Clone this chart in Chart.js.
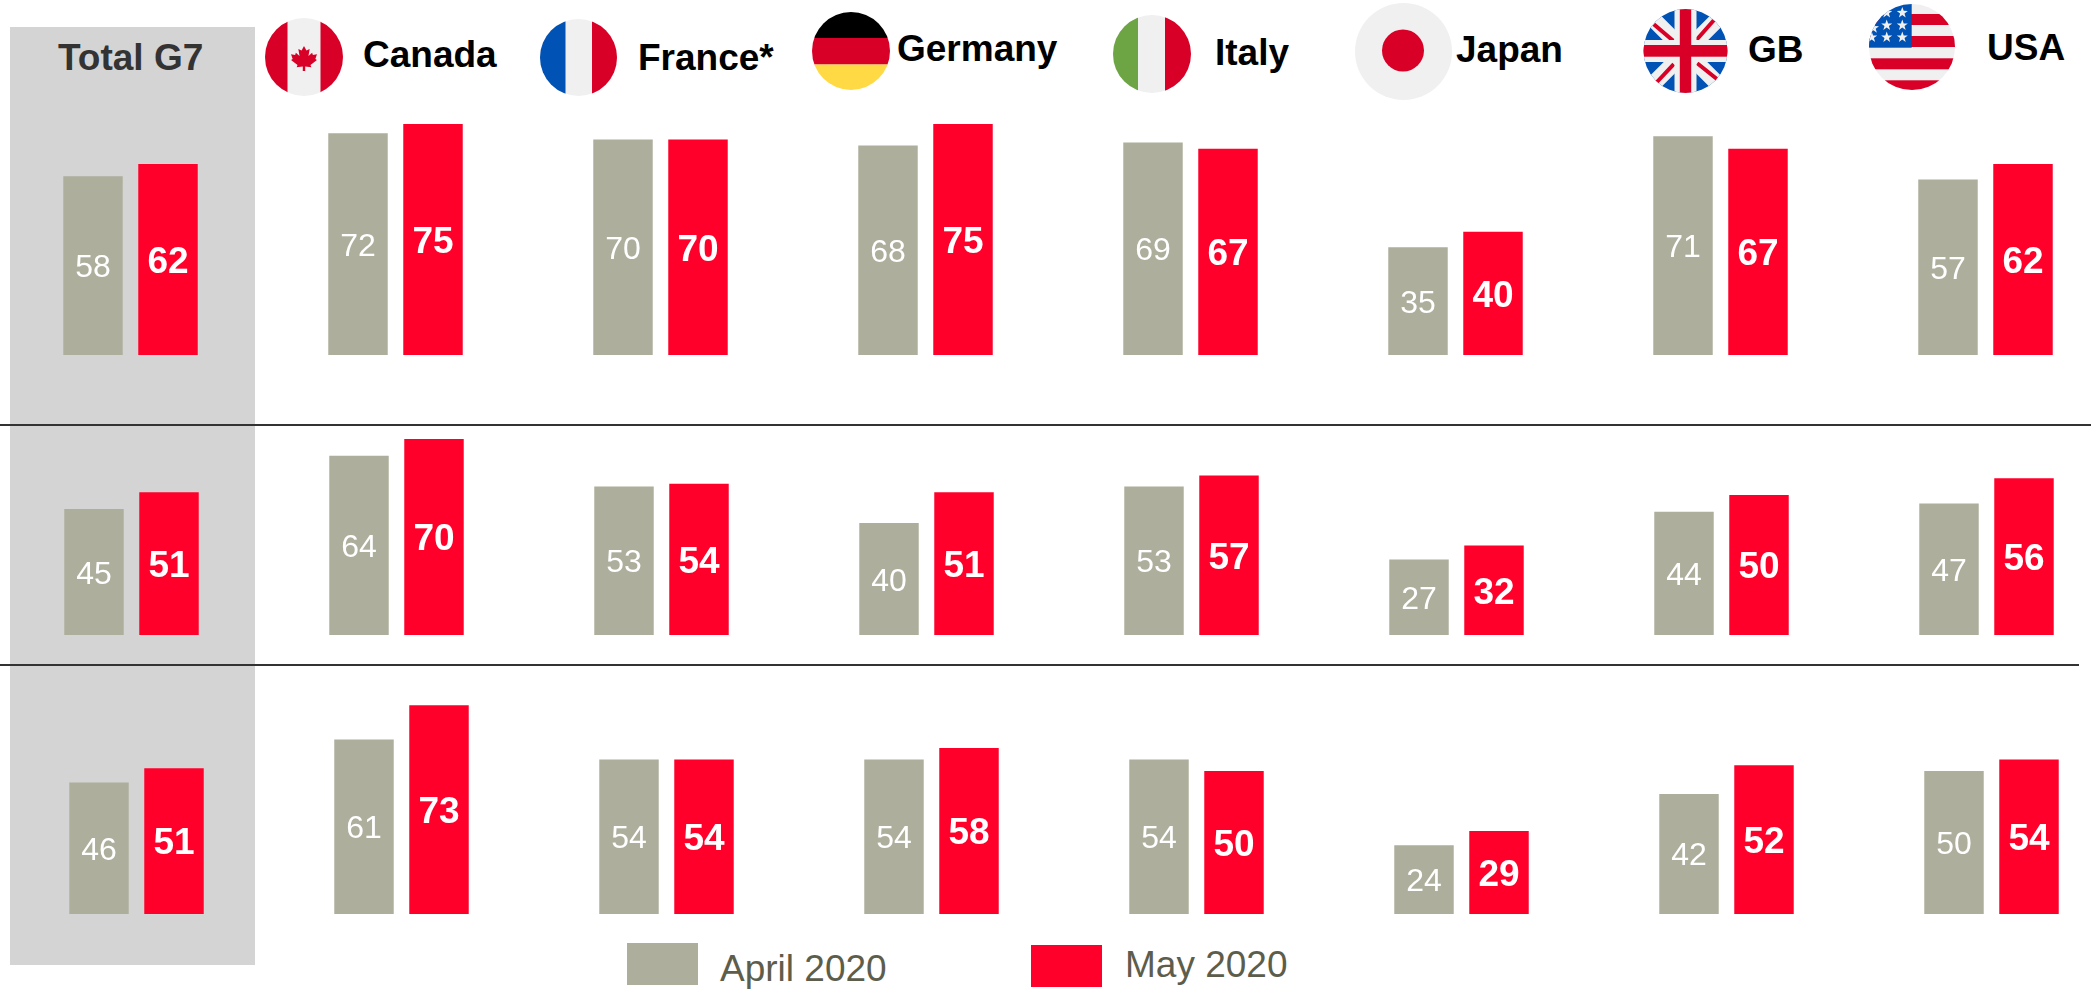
<!DOCTYPE html>
<html>
<head>
<meta charset="utf-8">
<title>G7 April / May 2020</title>
<script src="https://cdn.jsdelivr.net/npm/chart.js@4/dist/chart.umd.min.js"></script>
<style>
    html, body { margin: 0; padding: 0; background: #fff; }
    body { position: relative; width: 2091px; height: 991px; overflow: hidden; font-family: "Liberation Sans", Arial, sans-serif; }
    .abs { position: absolute; }
    canvas { position: absolute; }
    .head { position: absolute; font-weight: bold; font-size: 37px; line-height: 37px; color: #000; white-space: nowrap; }
    .leg { position: absolute; font-size: 37px; line-height: 37px; color: #5d5d4c; white-space: nowrap; }
    svg { position: absolute; overflow: hidden; }
</style>
</head>
<body>
<div class="abs" style="left:10px;top:27px;width:245px;height:938px;background:#d4d4d4"></div>
<div class="abs" style="left:0;top:423.5px;width:2091px;height:2.5px;background:#333"></div>
<div class="abs" style="left:0;top:663.5px;width:2079px;height:2.5px;background:#333"></div>

<!-- headers -->
<div class="head" style="left:58px;top:39px;color:#333">Total G7</div>
<div class="head" style="left:363px;top:36px">Canada</div>
<div class="head" style="left:638px;top:39px">France*</div>
<div class="head" style="left:897px;top:30px">Germany</div>
<div class="head" style="left:1215px;top:34px">Italy</div>
<div class="head" style="left:1456px;top:31px">Japan</div>
<div class="head" style="left:1748px;top:31px">GB</div>
<div class="head" style="left:1987px;top:29px">USA</div>

<!-- flags -->
<svg style="left:265px;top:18px" width="78" height="78" viewBox="0 0 78 78">
    <clipPath id="cCa"><circle cx="39" cy="39" r="39"/></clipPath>
    <g clip-path="url(#cCa)">
        <rect width="78" height="78" fill="#f0f0f0"/>
        <rect width="22.5" height="78" fill="#d80027"/>
        <rect x="55.5" width="22.5" height="78" fill="#d80027"/>
        <path transform="translate(39 28) scale(.81 .76) translate(-39 -26)" d="M39 26l3 6 4-2-1.500 9 4.500-4 1 3 5-1-2 6 2 1.500-8 6.500 1 3-7.500-1v6h-3v-6l-7.500 1 1-3-8-6.500 2-1.500-2-6 5 1 1-3 4.500 4-1.500-9 4 2z" fill="#d80027"/>
    </g>
</svg>
<svg style="left:540px;top:19px" width="77" height="77" viewBox="0 0 77 77">
    <clipPath id="cFr"><circle cx="38.500" cy="38.500" r="38.500"/></clipPath>
    <g clip-path="url(#cFr)">
        <rect width="77" height="77" fill="#f0f0f0"/>
        <rect width="25.500" height="77" fill="#0052b4"/>
        <rect x="52" width="25" height="77" fill="#d80027"/>
    </g>
</svg>
<svg style="left:812px;top:12px" width="78" height="78" viewBox="0 0 78 78">
    <clipPath id="cDe"><circle cx="39" cy="39" r="39"/></clipPath>
    <g clip-path="url(#cDe)">
        <rect width="78" height="26" fill="#000"/>
        <rect y="26" width="78" height="26.500" fill="#d80027"/>
        <rect y="52.500" width="78" height="25.500" fill="#ffda44"/>
    </g>
</svg>
<svg style="left:1113px;top:15px" width="78" height="78" viewBox="0 0 78 78">
    <clipPath id="cIt"><circle cx="39" cy="39" r="39"/></clipPath>
    <g clip-path="url(#cIt)">
        <rect width="78" height="78" fill="#f0f0f0"/>
        <rect width="25" height="78" fill="#6da544"/>
        <rect x="52" width="26" height="78" fill="#d80027"/>
    </g>
</svg>
<svg style="left:1355px;top:3px" width="97" height="97" viewBox="0 0 97 97">
    <circle cx="48.500" cy="48.500" r="48.500" fill="#f0f0f0"/>
    <circle cx="48" cy="47.500" r="21" fill="#d80027"/>
</svg>
<svg style="left:1643px;top:9px" width="85" height="85" viewBox="0 0 85 85">
    <clipPath id="cGb"><circle cx="42.500" cy="42" r="42"/></clipPath>
    <g clip-path="url(#cGb)">
        <rect width="85" height="85" fill="#0052b4"/>
        <path d="M0 0L85 85M85 0L0 85" stroke="#f0f0f0" stroke-width="16"/>
        <path d="M10.800 15.200L30.200 31.800M70.800 11.200L53.200 31.200M13.500 73.500L30.800 55.200M74.200 70.200L54.200 54.200" stroke="#d80027" stroke-width="4"/>
        <rect x="31.500" width="22" height="85" fill="#f0f0f0"/>
        <rect y="31" width="85" height="22" fill="#f0f0f0"/>
        <rect x="36.800" width="11.400" height="85" fill="#d80027"/>
        <rect y="36" width="85" height="11.700" fill="#d80027"/>
    </g>
</svg>
<svg style="left:1869px;top:4px" width="86" height="86" viewBox="0 0 86 86">
    <defs>
        <clipPath id="cUs"><circle cx="43" cy="43" r="43"/></clipPath>
        <polygon id="star" fill="#f0f0f0" points="0,-5.700 1.400,-1.900 5.500,-1.800 2.200,.7 3.400,4.700 0,2.300 -3.400,4.700 -2.200,.7 -5.500,-1.800 -1.400,-1.900"/>
    </defs>
    <g clip-path="url(#cUs)">
        <rect width="86" height="86" fill="#f0f0f0"/>
        <rect y="10" width="86" height="11" fill="#d80027"/>
        <rect y="32" width="86" height="11" fill="#d80027"/>
        <rect y="54.300" width="86" height="11" fill="#d80027"/>
        <rect y="76.300" width="86" height="10" fill="#d80027"/>
        <rect width="42.700" height="43.700" fill="#0052b4"/>
        <use href="#star" x="33.300" y="8.700"/>
        <use href="#star" x="17.700" y="8.700"/>
        <use href="#star" x="33.300" y="21.300"/>
        <use href="#star" x="17.700" y="21.300"/>
        <use href="#star" x="33.300" y="33.300"/>
        <use href="#star" x="17.700" y="33.300"/>
        <use href="#star" x="2.700" y="33.300"/>
        <use href="#star" x="4.500" y="24"/>
    </g>
</svg>

<canvas id="row1"></canvas>
<canvas id="row2"></canvas>
<canvas id="row3"></canvas>

<!-- legend -->
<div class="abs" style="left:627px;top:943px;width:71px;height:42px;background:#adae9c"></div>
<div class="leg" style="left:720px;top:950px">April 2020</div>
<div class="abs" style="left:1031px;top:945px;width:71px;height:42px;background:#ff002b"></div>
<div class="leg" style="left:1125px;top:946px">May 2020</div>

<script>
const countries = ['Total G7', 'Canada', 'France*', 'Germany', 'Italy', 'Japan', 'GB', 'USA'];

const april1 = [58, 72, 70, 68, 69, 35, 71, 57];
const may1 = [62, 75, 70, 75, 67, 40, 67, 62];

const april2 = [45, 64, 53, 40, 53, 27, 44, 47];
const may2 = [51, 70, 54, 51, 57, 32, 50, 56];

const april3 = [46, 61, 54, 54, 54, 24, 42, 50];
const may3 = [51, 73, 54, 58, 50, 29, 52, 54];

// value labels in the middle of each bar
const barLabels = {
    id: 'barLabels',
    afterDatasetsDraw(chart) {
        const ctx = chart.ctx;
        ctx.save();
        ctx.textAlign = 'center';
        ctx.textBaseline = 'alphabetic';
        ctx.fillStyle = '#fff';
        chart.data.datasets.forEach((ds, i) => {
            const bold = i === 1;
            const size = bold ? 37 : 32;
            ctx.font = (bold ? 'bold ' : '') + size + 'px "Liberation Sans"';
            chart.getDatasetMeta(i).data.forEach((bar, j) => {
                const mid = (bar.y + bar.base) / 2;
                ctx.fillText(ds.data[j], bar.x, mid + size * 0.36);
            });
        });
        ctx.restore();
    }
};

function drawRow(id, april, may, left, top, height) {
    const canvas = document.getElementById(id);
    canvas.style.left = left + 'px';
    canvas.style.top = top + 'px';
    canvas.width = 2120;
    canvas.height = height;
    return new Chart(canvas, {
        type: 'bar',
        data: {
            labels: countries,
            datasets: [
                { label: 'April 2020', data: april, backgroundColor: '#adae9c' },
                { label: 'May 2020', data: may, backgroundColor: '#ff002b' }
            ]
        },
        options: {
            responsive: false,
            animation: false,
            layout: { padding: 0 },
            datasets: { bar: { categoryPercentage: 0.566, barPercentage: 0.793 } },
            plugins: { legend: { display: false }, tooltip: { enabled: false } },
            scales: {
                x: { display: false },
                y: { display: false, min: 0, max: 100 }
            }
        },
        plugins: [barLabels]
    });
}

drawRow('row1', april1, may1, -2, 47, 308);
drawRow('row2', april2, may2, -1, 355, 280);
drawRow('row3', april3, may3, 4, 628, 286);
</script>
</body>
</html>
